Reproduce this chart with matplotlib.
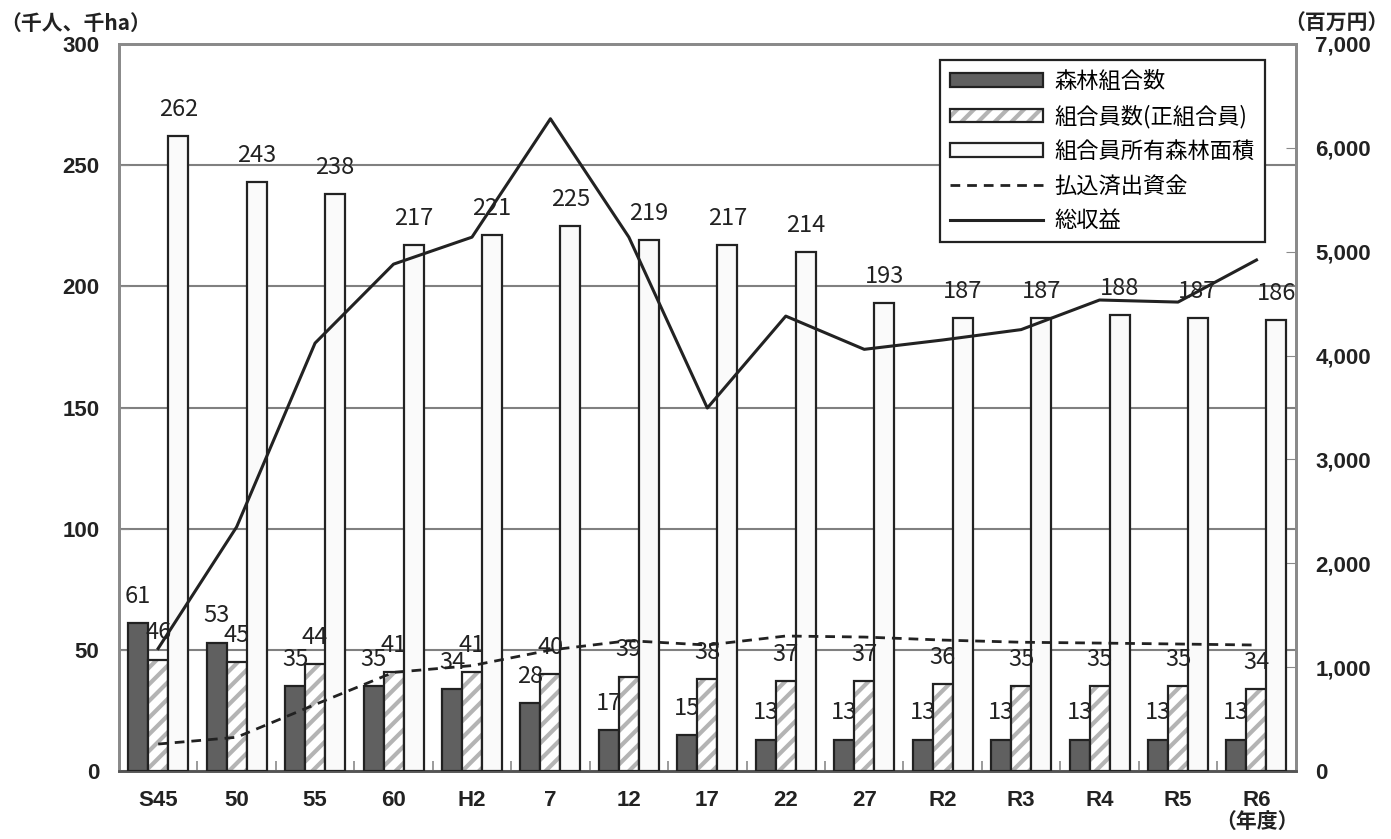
import matplotlib.pyplot as plt
from matplotlib.legend_handler import HandlerTuple
from matplotlib.patches import Patch
from matplotlib.lines import Line2D
import numpy as np

plt.rcParams['font.family'] = ['Liberation Sans', 'Noto Sans CJK JP', 'DejaVu Sans']
plt.rcParams['hatch.linewidth'] = 3.0

years = ['S45', '50', '55', '60', 'H2', '7', '12', '17', '22', '27',
         'R2', 'R3', 'R4', 'R5', 'R6']
kumiai = [61, 53, 35, 35, 34, 28, 17, 15, 13, 13, 13, 13, 13, 13, 13]
kumiaiin = [46, 45, 44, 41, 41, 40, 39, 38, 37, 37, 36, 35, 35, 35, 34]
menseki = [262, 243, 238, 217, 221, 225, 219, 217, 214, 193, 187, 187, 188, 187, 186]
shusshi = [260, 325, 640, 950, 1015, 1165, 1255, 1213, 1300, 1290, 1261, 1240, 1232, 1223, 1213]
shueki = [1180, 2350, 4120, 4880, 5140, 6280, 5140, 3495, 4380, 4060, 4150, 4250, 4535, 4515, 4920]

dark = '#222222'
grey = '#8a8a8a'
hatch_grey = '#b4b4b4'
lab_font = 'Noto Sans CJK JP'

fig = plt.figure(figsize=(13.91, 8.39), dpi=100)
ax = fig.add_axes([0.0855, 0.081, 0.846, 0.8666])
ax2 = ax.twinx()

x = np.arange(len(years))
w = 0.255

ax.set_zorder(2)
ax.patch.set_visible(False)
ax2.set_zorder(1)

ax.bar(x - w, kumiai, w, color='#606060', edgecolor=dark, linewidth=1.6, zorder=3)
ax.bar(x, kumiaiin, w, color='white', edgecolor=hatch_grey, hatch='//', linewidth=0, zorder=3)
ax.bar(x, kumiaiin, w, color='none', edgecolor=dark, linewidth=1.6, zorder=3)
ax.bar(x + w, menseki, w, color='#fafafa', edgecolor=dark, linewidth=1.6, zorder=3)

for xs, vals in [(x - w, kumiai), (x, kumiaiin), (x + w, menseki)]:
    for xi, v in zip(xs, vals):
        ax.annotate(str(v), (xi, v), xytext=(0, 14.5), textcoords='offset points',
                    ha='center', va='baseline', fontsize=17, family=lab_font,
                    color='#222222', zorder=6)

# lines drawn on the front axes, scaled to the right axis
ax2.set_ylim(0, 7000)
ax.set_ylim(0, 300)
scale = 300 / 7000
ax.plot(x, np.array(shusshi) * scale, ls=(0, (3.5, 2.5)), color=dark, lw=2.0, zorder=5)
ax.plot(x, np.array(shueki) * scale, color=dark, lw=2.2, zorder=5)

ax.set_xlim(-0.5, len(years) - 0.5)
ax.set_yticks(range(0, 301, 50))
ax2.set_yticks(range(0, 7001, 1000))
ax2.set_yticklabels([f'{v:,}' for v in range(0, 7001, 1000)])
ax.yaxis.grid(True, color='#808080', lw=1.5, zorder=0)
ax.set_axisbelow(True)

ax.set_xticks(x)
ax.set_xticklabels(years)
ax.set_xticks(np.arange(0.5, len(years) - 1, 1), minor=True)
ax.tick_params(axis='x', which='major', length=0, pad=14, labelsize=16)
ax.tick_params(axis='x', which='minor', direction='in', length=7, color=grey, width=1.2)
ax.tick_params(axis='y', direction='in', length=7, color=grey, labelsize=16, pad=14)
ax2.tick_params(axis='y', direction='in', length=7, color=grey, labelsize=16, pad=14)
for lbl in ax.get_xticklabels() + ax.get_yticklabels() + ax2.get_yticklabels():
    lbl.set_fontweight('bold')
    lbl.set_color('#222222')

for a in (ax, ax2):
    for s in a.spines.values():
        s.set_color(grey)
        s.set_linewidth(2)
ax.spines['bottom'].set_color('#555555')

fig.text(0.0, 0.972, '（千人、千ha）', fontsize=15, fontweight='bold', ha='left', va='center',
         family=['Noto Sans CJK JP'], color='#222222')
fig.text(0.9985, 0.972, '（百万円）', fontsize=15, fontweight='bold', ha='right', va='center',
         family=['Noto Sans CJK JP'], color='#222222')
fig.text(0.904, 0.021, '（年度）', fontsize=15, fontweight='bold', ha='center', va='center',
         family=['Noto Sans CJK JP'], color='#222222')

h2 = (Patch(facecolor='white', edgecolor=hatch_grey, hatch='//', linewidth=0),
      Patch(facecolor='none', edgecolor=dark, linewidth=1.6))
handles = [Patch(facecolor='#606060', edgecolor=dark, linewidth=1.6), h2,
           Patch(facecolor='#fafafa', edgecolor=dark, linewidth=1.6),
           Line2D([], [], ls=(0, (3.5, 2.5)), color=dark, lw=2.0),
           Line2D([], [], color=dark, lw=2.2)]
labels = ['森林組合数', '組合員数(正組合員)', '組合員所有森林面積', '払込済出資金', '総収益']
leg = ax.legend(handles, labels, loc='upper right', bbox_to_anchor=(0.9737, 0.978),
                borderaxespad=0,
                prop={'family': lab_font, 'size': 16}, handlelength=4.2, handleheight=0.55,
                handler_map={tuple: HandlerTuple(ndivide=1)},
                fancybox=False, edgecolor='#222222', framealpha=1, borderpad=0.45,
                labelspacing=0.52, handletextpad=0.5)
leg.get_frame().set_linewidth(1.6)
leg.set_zorder(7)

fig.savefig('out.png', dpi=100)
